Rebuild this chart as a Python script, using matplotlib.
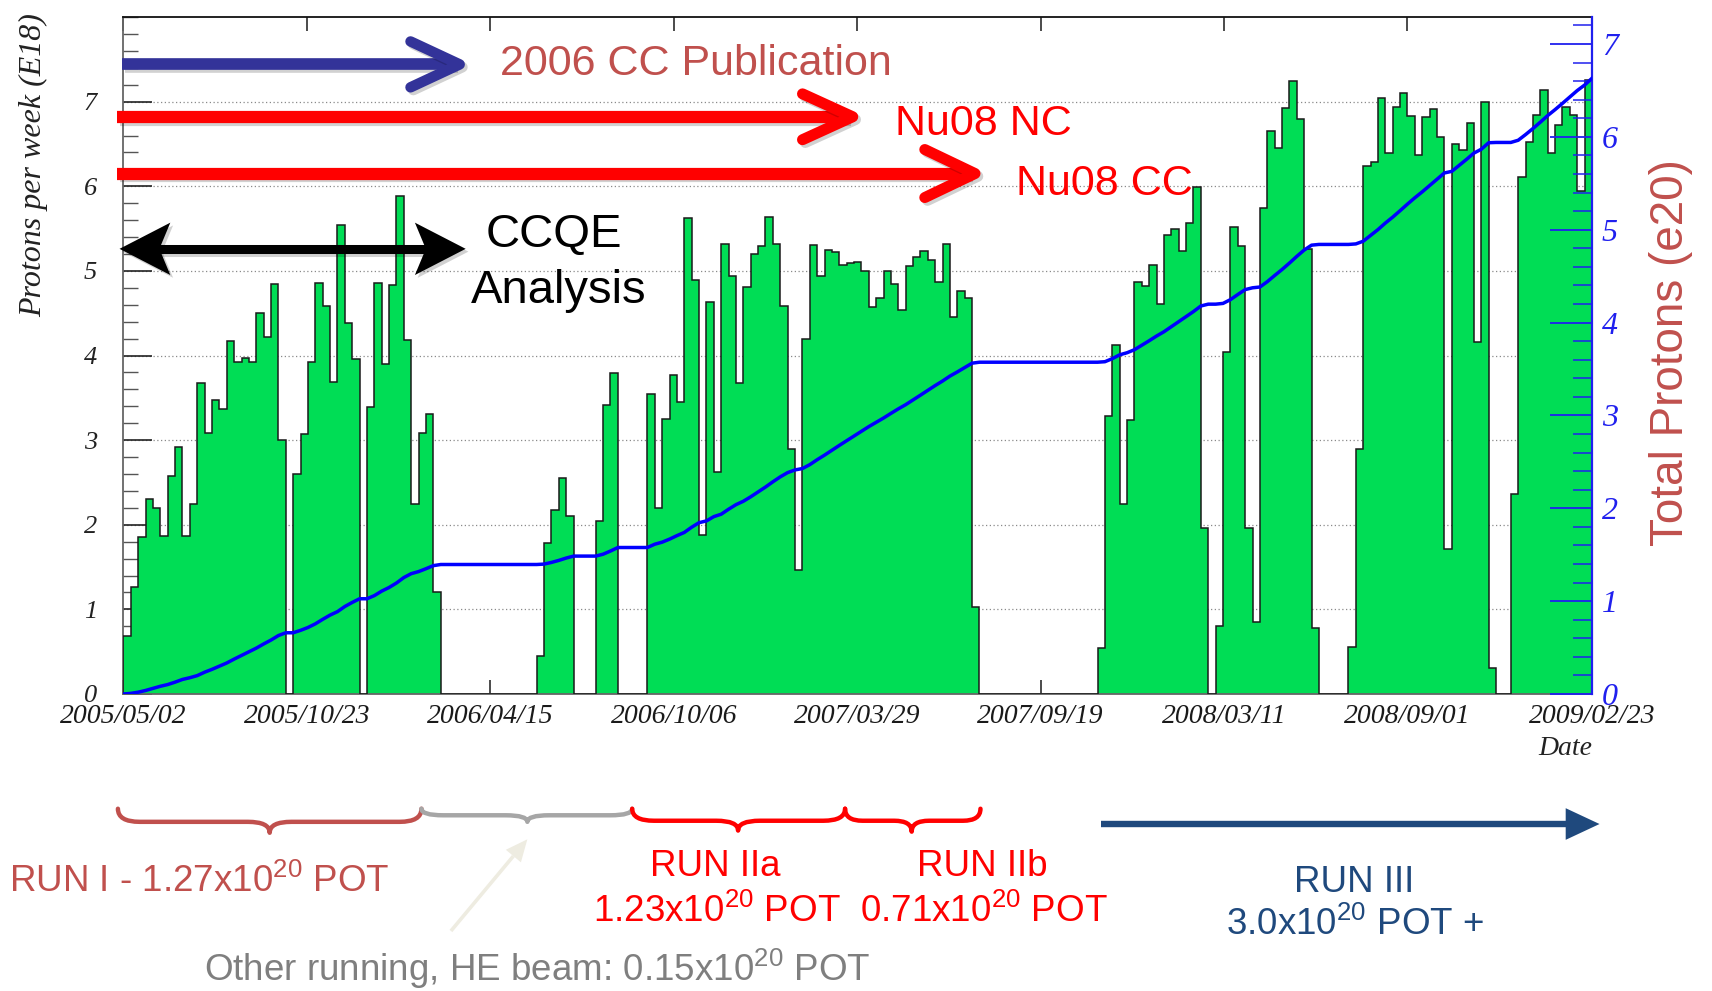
import numpy as np
import matplotlib
matplotlib.use('Agg')
import matplotlib.pyplot as plt
import matplotlib.dates as mdates
import matplotlib.patheffects as pe
from matplotlib.lines import Line2D
from matplotlib.patches import Polygon, PathPatch
from matplotlib.path import Path
from matplotlib.ticker import MultipleLocator
from datetime import datetime, timedelta

# protons on target per week (E18), one value per week starting 2005/05/02
pot_per_week = [
    0.68, 1.27, 1.85, 2.31, 2.20, 1.87, 2.58, 2.92, 1.87, 2.25,
    3.67, 3.08, 3.48, 3.37, 4.17, 3.92, 3.97, 3.92, 4.50, 4.22,
    4.84, 3.00, 0.00, 2.60, 3.07, 3.92, 4.86, 4.59, 3.69, 5.54,
    4.39, 3.96, 0.00, 3.39, 4.86, 3.90, 4.83, 5.88, 4.18, 2.24,
    3.09, 3.31, 1.21, 0.00, 0.00, 0.00, 0.00, 0.00, 0.00, 0.00,
    0.00, 0.00, 0.00, 0.00, 0.00, 0.00, 0.45, 1.78, 2.18, 2.55,
    2.10, 0.00, 0.00, 0.00, 2.04, 3.41, 3.79, 0.00, 0.00, 0.00,
    0.00, 3.55, 2.20, 3.25, 3.77, 3.45, 5.63, 4.89, 1.88, 4.63,
    2.62, 5.32, 4.94, 3.67, 4.81, 5.20, 5.29, 5.64, 5.32, 4.59,
    2.90, 1.47, 4.19, 5.31, 4.94, 5.25, 5.22, 5.07, 5.09, 5.10,
    5.00, 4.57, 4.68, 5.00, 4.85, 4.54, 5.06, 5.17, 5.24, 5.13,
    4.87, 5.32, 4.46, 4.76, 4.68, 1.03, 0.00, 0.00, 0.00, 0.00,
    0.00, 0.00, 0.00, 0.00, 0.00, 0.00, 0.00, 0.00, 0.00, 0.00,
    0.00, 0.00, 0.54, 3.29, 4.13, 2.25, 3.24, 4.87, 4.82, 5.07,
    4.61, 5.43, 5.50, 5.24, 5.57, 5.99, 1.96, 0.00, 0.80, 4.04,
    5.52, 5.30, 1.96, 0.85, 5.74, 6.65, 6.45, 6.92, 7.25, 6.80,
    5.26, 0.78, 0.00, 0.00, 0.00, 0.00, 0.56, 2.90, 6.24, 6.29,
    7.04, 6.39, 6.94, 7.10, 6.83, 6.37, 6.82, 6.91, 6.58, 1.71,
    6.50, 6.43, 6.75, 4.16, 7.00, 0.31, 0.00, 0.00, 2.36, 6.11,
    6.52, 6.84, 7.14, 6.39, 6.73, 6.94, 6.84, 5.95, 7.26,
]
first_week = '2005/05/02'
date_labels = ['2005/05/02', '2005/10/23', '2006/04/15', '2006/10/06', '2007/03/29',
               '2007/09/19', '2008/03/11', '2008/09/01', '2009/02/23']
left_ticks = [0, 1, 2, 3, 4, 5, 6, 7]
right_ticks = [0, 1, 2, 3, 4, 5, 6, 7]

plt.rcParams['mathtext.fontset'] = 'custom'
plt.rcParams['mathtext.rm'] = 'Liberation Sans'
plt.rcParams['mathtext.it'] = 'Liberation Sans:italic'
plt.rcParams['mathtext.bf'] = 'Liberation Sans:bold'

t0 = datetime.strptime(first_week, '%Y/%m/%d')
edges = mdates.date2num([t0 + timedelta(weeks=i) for i in range(len(pot_per_week) + 1)])
total = np.concatenate([[0.0], np.cumsum(pot_per_week)]) / 100.0

fig = plt.figure(figsize=(17.12, 9.91), dpi=100)
ax = fig.add_axes([0.0721, 0.2997, 0.8578, 0.6831])

for y in left_ticks[1:]:
    ax.axhline(y, color='#8a8a8a', lw=0.9, ls=(0, (1, 2)), zorder=1)
ax.stairs(pot_per_week, edges, fill=True, color='#00dd55', zorder=2)
ax.stairs(pot_per_week, edges, color='#1a1a1a', lw=1.1, zorder=3)

ax.set_xlim(edges[0], edges[-1])
ax.set_ylim(0, 8)
ax.set_xticks(mdates.datestr2num(date_labels))
ax.set_xticklabels(date_labels)
ax.set_yticks(left_ticks)
ax.yaxis.set_minor_locator(MultipleLocator(0.2))
ax.tick_params(axis='x', which='major', direction='in', length=10, width=1.1,
               top=True, labelsize=20, pad=7, colors='#1a1a1a')
ax.tick_params(axis='y', which='major', direction='in', length=21, width=1.2,
               labelsize=19, pad=19, colors='#222222')
ax.tick_params(axis='y', which='minor', direction='in', length=11, width=1.0, colors='#555555')
for s in ['left', 'bottom']:
    ax.spines[s].set_color('#666666')
    ax.spines[s].set_linewidth(1.3)
ax.spines['top'].set_color('#111111')
ax.spines['top'].set_linewidth(1.3)
ax.spines['right'].set_visible(False)

ax2 = ax.twinx()
ax2.plot(edges, total, color='#0000ff', lw=2.5, zorder=4)
ax2.set_ylim(0, 7.29)
ax2.set_yticks(right_ticks)
ax2.yaxis.set_minor_locator(MultipleLocator(0.2))
ax2.tick_params(axis='y', which='major', direction='in', length=30, width=1.3,
                labelsize=23, pad=7, colors='#2020ee')
ax2.tick_params(axis='y', which='minor', direction='in', length=14, width=1.1, colors='#2020ee')
for s in ['left', 'top', 'bottom']:
    ax2.spines[s].set_visible(False)
ax2.spines['right'].set_color('#2020ee')
ax2.spines['right'].set_linewidth(1.6)

for lbl in ax.get_xticklabels() + ax.get_yticklabels() + ax2.get_yticklabels():
    lbl.set_fontfamily('Liberation Serif')
    lbl.set_fontstyle('italic')

# positions below are given in pixels of a 1568x908 layout
W, H = 1568.0, 908.0


def fp(x, y):
    return (x / W, 1 - y / H)


def add_line(xs, ys, color, lw, cap='round', shadow=False):
    ln = Line2D([x / W for x in xs], [1 - y / H for y in ys], transform=fig.transFigure,
                color=color, lw=lw, solid_capstyle=cap, solid_joinstyle='round')
    if shadow:
        ln.set_path_effects([pe.SimpleLineShadow(offset=(2, -2), alpha=0.18), pe.Normal()])
    fig.add_artist(ln)


def add_poly(pts, color, shadow=False):
    pg = Polygon([fp(x, y) for x, y in pts], closed=True, transform=fig.transFigure,
                 facecolor=color, edgecolor='none')
    if shadow:
        pg.set_path_effects([pe.SimplePatchShadow(offset=(2, -2), alpha=0.18), pe.Normal()])
    fig.add_artist(pg)


def chevron_arrow(x0, x1, y, hl, hw, color, lw):
    add_line([x0, x1 - 4], [y, y], color, lw, cap='butt', shadow=True)
    add_line([x1 - hl, x1, x1 - hl], [y - hw, y, y + hw], color, lw * 0.9, shadow=True)


def brace(x0, x1, xm, ytop, ymid, ytip, color, lw, r=20):
    verts = [fp(x0, ytop), fp(x0, ymid), fp(x0 + r, ymid), fp(xm - r, ymid), fp(xm, ymid),
             fp(xm, ytip), fp(xm, ymid), fp(xm + r, ymid), fp(x1 - r, ymid), fp(x1, ymid),
             fp(x1, ytop)]
    codes = [Path.MOVETO, Path.CURVE3, Path.CURVE3, Path.LINETO, Path.CURVE3, Path.CURVE3,
             Path.CURVE3, Path.CURVE3, Path.LINETO, Path.CURVE3, Path.CURVE3]
    fig.add_artist(PathPatch(Path(verts, codes), transform=fig.transFigure, fill=False,
                             edgecolor=color, lw=lw, capstyle='round', joinstyle='round'))


def label(x, y, s, color, size, ha='left'):
    fig.text(x / W, 1 - y / H, s, color=color, fontsize=size, ha=ha, va='baseline',
             family='Liberation Sans')


# axis titles
fig.text(31 / W, 1 - 151 / H, 'Protons per week (E18)', rotation=90, ha='center', va='center',
         family='Liberation Serif', style='italic', fontsize=23, color='#222222')
fig.text(1530 / W, 1 - 323 / H, 'Total Protons (e20)', rotation=90, ha='center', va='center',
         family='Liberation Sans', fontsize=33, color='#c0504d')
fig.text(1458 / W, 1 - 686 / H, 'Date', ha='right', va='center', family='Liberation Serif',
         style='italic', fontsize=20, color='#222222')

# analysis arrows over the histogram
chevron_arrow(112, 421, 59, 45, 21, '#333399', 8.4)
label(458, 69, '2006 CC Publication', '#c0504d', 31)
chevron_arrow(107, 781, 107, 46, 21, '#ff0000', 8.8)
label(820, 124, 'Nu08 NC', '#ff0000', 31)
chevron_arrow(107, 893, 159, 46, 22, '#ff0000', 8.8)
label(931, 179, 'Nu08 CC', '#ff0000', 31)

add_line([140, 396], [228, 228], 'black', 6.5, cap='butt', shadow=True)
add_poly([(109.5, 228), (156, 204), (146, 228), (156, 252)], 'black', shadow=True)
add_poly([(426.5, 228), (380, 204), (390, 228), (380, 252)], 'black', shadow=True)
label(445, 226, 'CCQE', 'black', 34)
label(431, 278, 'Analysis', 'black', 34)

# run periods below the axis
brace(108, 386, 247, 741, 753, 763, '#c0504d', 3.2)
brace(386, 579, 483, 741, 747, 753, '#a6a6a6', 3.2)
brace(579, 774, 676, 741, 752, 761, '#ff0000', 3.2)
brace(774, 898, 835, 741, 752, 762, '#ff0000', 3.2, r=16)

add_line([1008, 1438], [755, 755], '#1f497d', 4.6, cap='butt')
add_poly([(1465, 755), (1434, 740.5), (1434, 769.5)], '#1f497d')

bx0, by0, bx1, by1 = 413, 853, 483, 769
d = np.hypot(bx1 - bx0, by1 - by0)
ux, uy = (bx1 - bx0) / d, (by1 - by0) / d
hx, hy = bx1 - 20 * ux, by1 - 20 * uy
add_line([bx0, hx], [by0, hy], '#eeece1', 2.6, cap='butt')
add_poly([(bx1, by1), (hx - 9 * uy, hy + 9 * ux), (hx + 9 * uy, hy - 9 * ux)], '#eeece1')

sup = r'x10$^{\mathrm{20}}$ POT'
label(8, 817, 'RUN I - 1.27' + sup, '#c0504d', 26.5)
label(187, 899, 'Other running, HE beam: 0.15' + sup, '#7f7f7f', 26.5)
label(655, 803, 'RUN IIa', '#ff0000', 26.5, ha='center')
label(543, 845, '1.23' + sup, '#ff0000', 26.5)
label(900, 803, 'RUN IIb', '#ff0000', 26.5, ha='center')
label(788, 845, '0.71' + sup, '#ff0000', 26.5)
label(1240, 817, 'RUN III', '#1f497d', 26.5, ha='center')
label(1123, 857, '3.0' + sup + ' +', '#1f497d', 26.5)

fig.savefig('out.png', dpi=100, facecolor='white')
